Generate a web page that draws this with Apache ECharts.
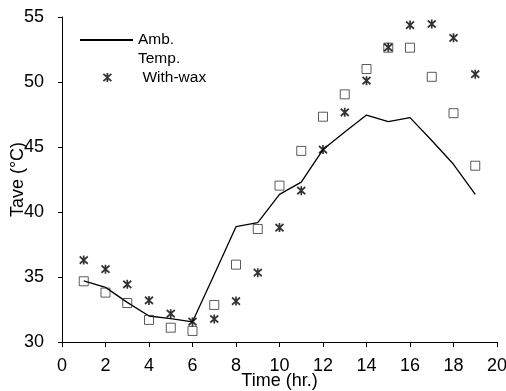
<!DOCTYPE html>
<html>
<head>
<meta charset="utf-8">
<script src="https://cdn.jsdelivr.net/npm/echarts@6/dist/echarts.min.js"></script>
<style>
html,body{margin:0;padding:0;background:#fff;}
#chart{width:506px;height:391px;}
</style>
</head>
<body>
<div id="chart"></div>
<script>
// Data
var hours = [1,2,3,4,5,6,7,8,9,10,11,12,13,14,15,16,17,18,19];
var ambTemp = [34.7,34.2,33.05,32.0,31.8,31.55,35.2,38.87,39.18,41.36,42.3,44.8,46.15,47.46,46.95,47.26,45.5,43.67,41.36];
var withWax = [36.3,35.6,34.44,33.2,32.18,31.56,31.77,33.15,35.33,38.8,41.64,44.8,47.67,50.1,52.67,54.38,54.46,53.4,50.6];
var withoutWax = [34.67,33.8,33.0,31.7,31.1,30.85,32.85,35.95,38.69,42.03,44.7,47.33,49.05,51.0,52.64,52.64,50.4,47.6,43.56];
var xTicks = [0,2,4,6,8,10,12,14,16,18,20];
var yTicks = [30,35,40,45,50,55];

function pairs(xs, ys){ return xs.map(function(x,i){ return [x, ys[i]]; }); }

var asterisk = 'path://M0,-5L0,5M-4,-4L4,4M-4,4L4,-4';
var font = 'Liberation Sans, Arial, sans-serif';

var chart = echarts.init(document.getElementById('chart'));
chart.setOption({
  animation: false,
  backgroundColor: '#fff',
  grid: {left: 62, right: 9, top: 17, bottom: 49, containLabel: false, outerBoundsMode: 'none'},
  xAxis: {
    type: 'value', min: xTicks[0], max: xTicks[xTicks.length-1], interval: 2,
    name: 'Time (hr.)', nameLocation: 'middle', nameGap: 30, nameMoveOverlap: false,
    nameTextStyle: {fontFamily: font, fontSize: 18, color: '#000'},
    axisLine: {show: true, onZero: false, lineStyle: {color: '#000', width: 1}},
    axisTick: {show: true, inside: false, length: 5, lineStyle: {color: '#000'}},
    axisLabel: {margin: 15, fontFamily: font, fontSize: 18, color: '#000'},
    splitLine: {show: false}
  },
  yAxis: {
    type: 'value', min: yTicks[0], max: yTicks[yTicks.length-1], interval: 5,
    name: 'Tave (°C)', nameLocation: 'middle', nameGap: 35, nameRotate: 90, nameMoveOverlap: false,
    nameTextStyle: {fontFamily: font, fontSize: 18, color: '#000'},
    axisLine: {show: true, onZero: false, lineStyle: {color: '#000', width: 1}},
    axisTick: {show: true, inside: false, length: 4, lineStyle: {color: '#000'}},
    axisLabel: {margin: 18, fontFamily: font, fontSize: 18, color: '#000'},
    splitLine: {show: false}
  },
  legend: [
    {
      data: ['Amb. Temp.'], orient: 'vertical', left: 79, top: 11.5, padding: 0,
      itemWidth: 53, itemHeight: 14,
      itemStyle: {color: 'rgba(0,0,0,0)', borderColor: 'rgba(0,0,0,0)', borderWidth: 0},
      formatter: function(n){ return ' \nAmb.\nTemp.'; },
      textStyle: {fontFamily: font, fontSize: 15.5, color: '#000', lineHeight: 19}
    },
    {
      data: [{name: 'With-wax', icon: asterisk}], orient: 'vertical', left: 102.5, top: 69.5, padding: 0,
      itemWidth: 8, itemHeight: 9, symbolKeepAspect: false,
      itemStyle: {color: 'rgba(0,0,0,0)', borderColor: '#000', borderWidth: 1.8},
      textStyle: {fontFamily: font, fontSize: 15.5, color: '#000', padding: [0,0,0,26]}
    }
  ],
  series: [
    {
      name: 'Amb. Temp.', type: 'line', data: pairs(hours, ambTemp),
      showSymbol: false, symbol: 'none',
      lineStyle: {color: '#000', width: 1.3},
      itemStyle: {color: '#000'}, z: 2
    },
    {
      name: 'Without-wax', type: 'scatter', data: pairs(hours, withoutWax),
      symbol: 'rect', symbolSize: 9,
      itemStyle: {color: 'rgba(0,0,0,0)', borderColor: '#333', borderWidth: 1}, z: 3
    },
    {
      name: 'With-wax', type: 'scatter', data: pairs(hours, withWax),
      symbol: asterisk, symbolSize: [8, 9],
      itemStyle: {color: 'rgba(0,0,0,0)', borderColor: '#000', borderWidth: 1.8}, z: 4
    }
  ]
});
</script>
</body>
</html>
